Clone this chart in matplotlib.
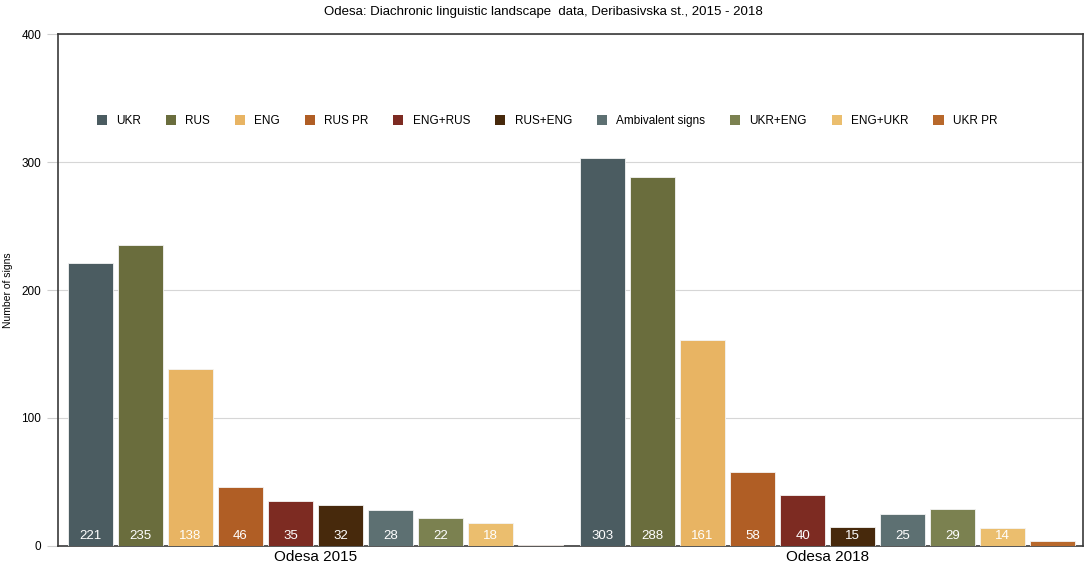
import numpy as np
import matplotlib
matplotlib.use('Agg')
import matplotlib.pyplot as plt

plt.rcParams['font.family'] = ['Liberation Sans', 'DejaVu Sans']

categories = ['UKR', 'RUS', 'ENG', 'RUS PR', 'ENG+RUS', 'RUS+ENG',
              'Ambivalent signs', 'UKR+ENG', 'ENG+UKR', 'UKR PR']
groups = ['Odesa 2015', 'Odesa 2018']
odesa_2015 = [221, 235, 138, 46, 35, 32, 28, 22, 18, 1]
odesa_2018 = [303, 288, 161, 58, 40, 15, 25, 29, 14, 4]
colors = ['#4b5c61', '#6a6d3d', '#e8b463', '#b05e25', '#7d2b22',
          '#47290c', '#5d7072', '#7b8150', '#ebbe6e', '#b8682b']

series = [odesa_2015, odesa_2018]

fig = plt.figure(figsize=(10.86, 5.72), dpi=100)
ax = fig.add_axes([0.0534, 0.0455, 0.944, 0.895])

group_gap = 10.24
width = 0.9
for g, vals in enumerate(series):
    for i, v in enumerate(vals):
        x = g * group_gap + i
        ax.bar(x, v, width=width, color=colors[i], edgecolor='#f4f4f4',
               linewidth=0.6, zorder=3,
               label=categories[i] if g == 0 else None)
        ax.text(x, 8, str(v), ha='center', va='center', color='white',
                fontsize=9.5, zorder=4)

ax.set_xlim(-0.65, group_gap + 9 + 0.61)
ax.set_ylim(0, 400)
ax.set_yticks([0, 100, 200, 300, 400])
ax.set_xticks([4.5, group_gap + 4.5])
ax.set_xticklabels(groups, fontsize=11)
ax.tick_params(axis='x', length=0, pad=3)
ax.tick_params(axis='y', length=8, color='#cfcfcf', labelsize=8.5, pad=4)
ax.yaxis.grid(True, color='#d6d6d6', linewidth=0.8, zorder=0)
ax.set_axisbelow(True)
for s in ['left', 'bottom', 'top', 'right']:
    ax.spines[s].set_color('#3a3a3a')
    ax.spines[s].set_linewidth(1.2)

ax.set_ylabel('Number of signs', fontsize=7.5, labelpad=6)
fig.suptitle('Odesa: Diachronic linguistic landscape  data, Deribasivska st., 2015 - 2018',
             fontsize=9.5, y=0.99)

leg = ax.legend(loc='center left', bbox_to_anchor=(0.033, 0.83), ncol=10,
                frameon=False, fontsize=8.5, handlelength=0.85, handleheight=0.85,
                handletextpad=0.8, columnspacing=2.1, borderaxespad=0)
for h in leg.legend_handles:
    h.set_edgecolor('none')

fig.savefig('out.png', dpi=100)
